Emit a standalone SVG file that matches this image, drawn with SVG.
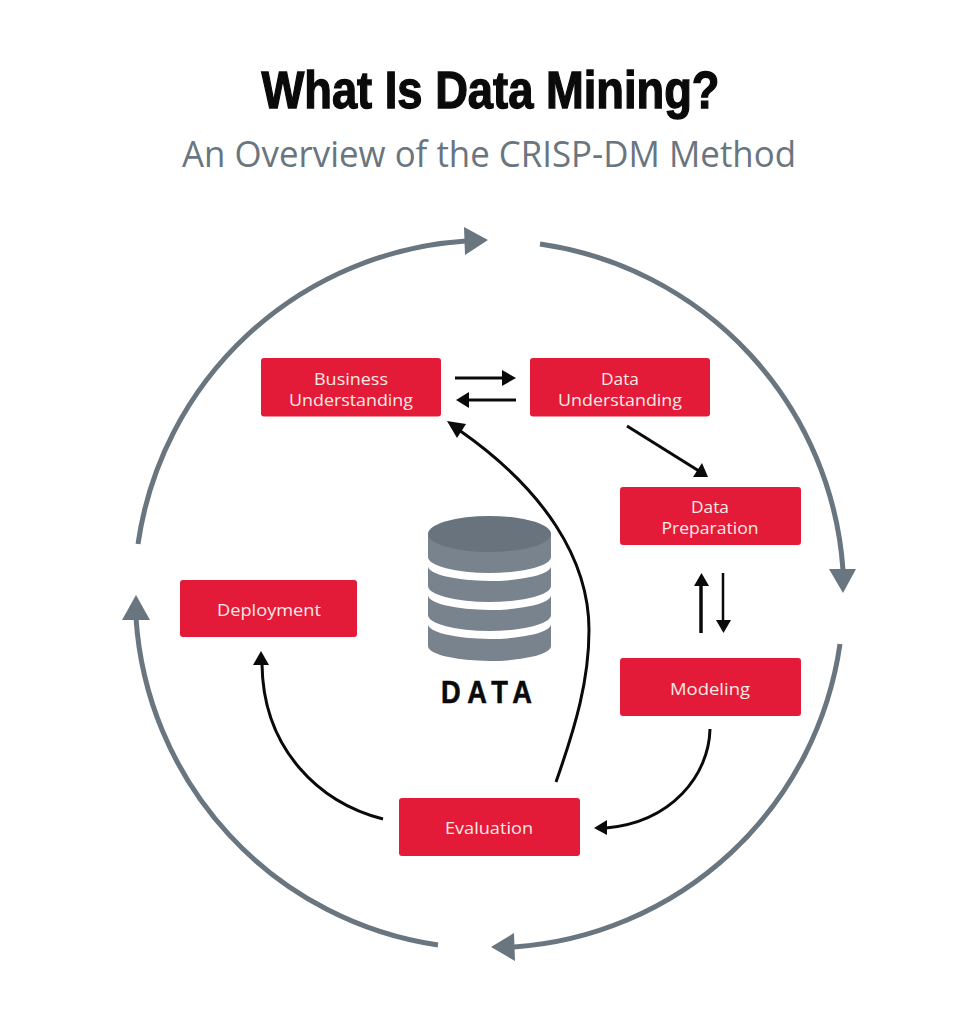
<svg xmlns="http://www.w3.org/2000/svg" width="979" height="1024" viewBox="0 0 979 1024">
<style>
.n{fill:#e31b38}
.t{font-family:"Open Sans","Liberation Sans",sans-serif;font-size:17px;font-weight:500;fill:#fbe9e6;text-anchor:middle}
.o{fill:none;stroke:#69757f;stroke-width:5}
.c{fill:none;stroke:#0a0a0a;stroke-width:3}
.oh{fill:#69757f}
.ch{fill:#0a0a0a}
.b{fill:#78838e}
.s{fill:#fff}
</style>
<rect width="979" height="1024" fill="#fff"/>
<text id="title" x="490.500" y="108" text-anchor="middle" textLength="458" lengthAdjust="spacingAndGlyphs" font-family="'Liberation Sans',sans-serif" font-weight="700" font-size="51" fill="#0a0a0a" stroke="#0a0a0a" stroke-width="1.300">What Is Data Mining?</text>
<text id="subtitle" x="489" y="167" text-anchor="middle" textLength="614" lengthAdjust="spacingAndGlyphs" font-family="'Open Sans','Liberation Sans',sans-serif" font-size="36" fill="#69757f">An Overview of the CRISP-DM Method</text>
<g id="connectors">
<path class="o" d="M138 544A354 354 0 0 1 466 241"/>
<polygon class="oh" points="488,240 464,227 465,255"/>
<path class="o" d="M540 244A354 354 0 0 1 843 570"/>
<polygon class="oh" points="843,593 829,569 856,569"/>
<path class="o" d="M840 644A354 354 0 0 1 514 947"/>
<polygon class="oh" points="491,947 514,933 515,961"/>
<path class="o" d="M438 945A354 354 0 0 1 136 618"/>
<polygon class="oh" points="136,595 122,620 150,620"/>
<path class="c" d="M455 378H503"/><polygon class="ch" points="516,378 502,370 502,386"/>
<path class="c" d="M516 400H468"/><polygon class="ch" points="456,400 469,392 469,408"/>
<path class="c" d="M627 426L699 471"/><polygon class="ch" points="708,477 693,477 702,463"/>
<path class="c" style="stroke-width:3.500" d="M701 633V585"/><polygon class="ch" points="701.500,573 694,586 709,586"/>
<path class="c" style="stroke-width:2.500" d="M723 573V621"/><polygon class="ch" points="723.500,633 716,620 731,620"/>
<path class="c" d="M710 729C709 775 672 822 606 828"/><polygon class="ch" points="594,828 607,820 607,835"/>
<path class="c" d="M383 819C320 803 263 750 262 664"/><polygon class="ch" points="261,651 253,665 269,665"/>
<path class="c" d="M556 782C576 725 589 680 589 630C589 560 545 490 459 430"/><polygon class="ch" points="447,421 466,424 457,438"/>
</g>
<g id="data">
<path class="b" d="M428 534V646A61.500 15 0 0 0 551 646V534Z"/>
<ellipse cx="489.500" cy="534" rx="61.500" ry="18" fill="#68737e"/>
<path class="s" d="M428 557A61.500 16 0 0 0 551 557V566A61.500 15 0 0 1 428 566Z"/>
<path class="s" d="M428 586A61.500 16 0 0 0 551 586V595A61.500 15 0 0 1 428 595Z"/>
<path class="s" d="M428 615A61.500 16 0 0 0 551 615V624A61.500 15 0 0 1 428 624Z"/>
<text transform="translate(486.500 703) scale(0.85 1)" text-anchor="middle" textLength="107" font-family="'Liberation Sans',sans-serif" font-weight="700" font-size="32" fill="#0a0a0a" stroke="#0a0a0a" stroke-width="0.600">DATA</text>
</g>
<g id="business"><rect class="n" x="261" y="358" width="180" height="58.500" rx="3"/><text class="t" x="351" y="384.500" textLength="74" lengthAdjust="spacingAndGlyphs">Business</text><text class="t" x="351" y="405.500" textLength="124" lengthAdjust="spacingAndGlyphs">Understanding</text></g>
<g id="data-understanding"><rect class="n" x="530" y="358" width="180" height="58.500" rx="3"/><text class="t" x="620" y="384.500" textLength="38" lengthAdjust="spacingAndGlyphs">Data</text><text class="t" x="620" y="405.500" textLength="124" lengthAdjust="spacingAndGlyphs">Understanding</text></g>
<g id="preparation"><rect class="n" x="620" y="487" width="181" height="58" rx="3"/><text class="t" x="710" y="513" textLength="38" lengthAdjust="spacingAndGlyphs">Data</text><text class="t" x="710" y="534" textLength="97" lengthAdjust="spacingAndGlyphs">Preparation</text></g>
<g id="modeling"><rect class="n" x="620" y="658" width="181" height="58" rx="3"/><text class="t" x="710" y="695" textLength="80" lengthAdjust="spacingAndGlyphs">Modeling</text></g>
<g id="evaluation"><rect class="n" x="399" y="798" width="181" height="58" rx="3"/><text class="t" x="489" y="834" textLength="88" lengthAdjust="spacingAndGlyphs">Evaluation</text></g>
<g id="deployment"><rect class="n" x="180" y="580" width="177" height="57" rx="3"/><text class="t" x="269" y="616" textLength="104" lengthAdjust="spacingAndGlyphs">Deployment</text></g>
</svg>
